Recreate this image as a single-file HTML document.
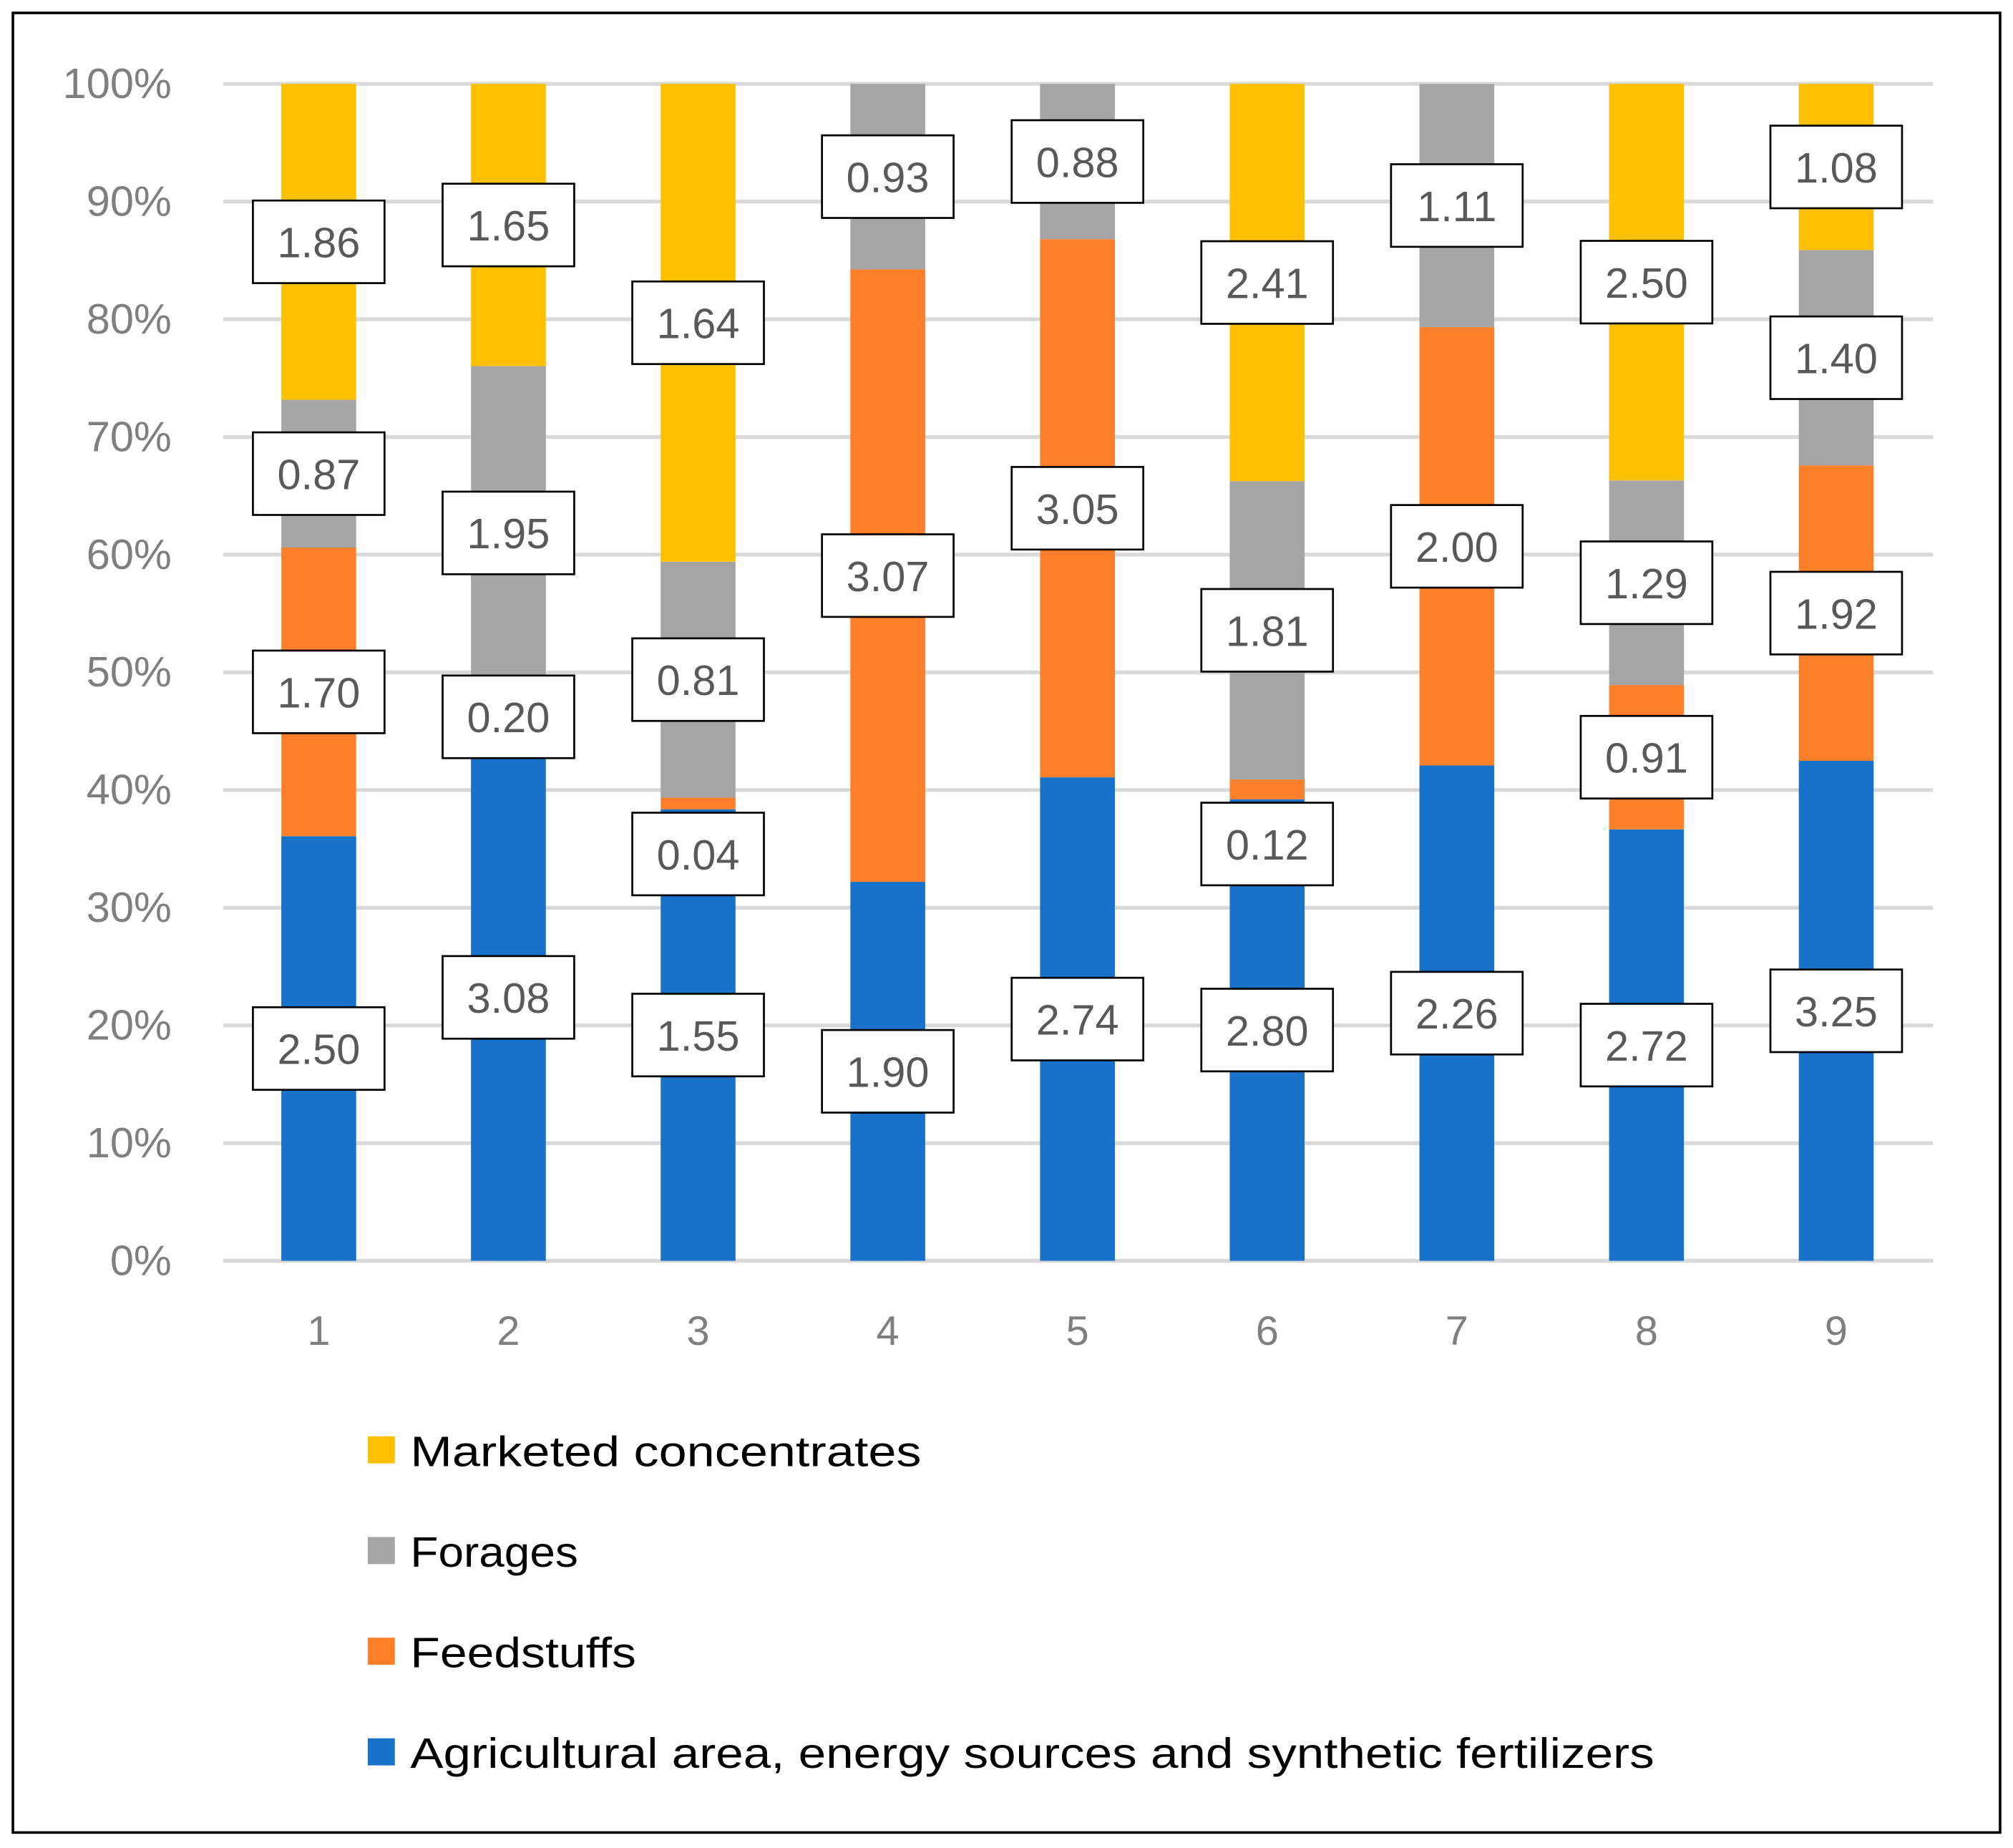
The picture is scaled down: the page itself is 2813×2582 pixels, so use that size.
<!DOCTYPE html>
<html><head><meta charset="utf-8"><style>html,body{margin:0;padding:0;background:#fff}svg{display:block}text{font-family:"Liberation Sans",sans-serif}</style></head>
<body>
<svg id="chart" width="2813" height="2582" viewBox="0 0 1560 1432" preserveAspectRatio="none" xmlns="http://www.w3.org/2000/svg">
<rect x="10" y="10" width="1540" height="1410" fill="#fff" stroke="#000" stroke-width="2"/>
<g id="grid"></g><g id="bars"></g><g id="labels"></g><g id="legend"></g>
</svg>
<script>
const categories = ["1","2","3","4","5","6","7","8","9"];
const agricultural = [2.50,3.08,1.55,1.90,2.74,2.80,2.26,2.72,3.25];
const feedstuffs = [1.70,0.20,0.04,3.07,3.05,0.12,2.00,0.91,1.92];
const forages = [0.87,1.95,0.81,0.93,0.88,1.81,1.11,1.29,1.40];
const concentrates = [1.86,1.65,1.64,0,0,2.41,0,2.50,1.08];
const yTicks = [0,10,20,30,40,50,60,70,80,90,100];
const seriesNames = ["Agricultural area, energy sources and synthetic fertilizers","Feedstuffs","Forages","Marketed concentrates"];
const legendWidths = [964,175,130,396];
const colors = ["#1872C9","#FD7F2A","#A5A5A5","#FFC000"];
const series = [agricultural, feedstuffs, forages, concentrates];
const NS="http://www.w3.org/2000/svg";
const y0=977, y1=65, xL=173, xR=1498;
const yS = p => y0 - (y0-y1)*p/100;
const xS = i => 247 + i*147;
function mk(tag, attrs, parent){const e=document.createElementNS(NS,tag);for(const k in attrs)e.setAttribute(k,attrs[k]);parent.appendChild(e);return e;}
const grid=document.getElementById('grid'), bars=document.getElementById('bars'), labels=document.getElementById('labels'), legend=document.getElementById('legend');
yTicks.forEach(t=>{
  const l=mk('line',{x1:xL,x2:xR,y1:yS(t),y2:yS(t),stroke:'#d9d9d9','stroke-width':3},grid);
  
  
  const tx=mk('text',{x:133,y:yS(t)+11,'text-anchor':'end','font-size':33,fill:'#7f7f7f'},grid);
  tx.textContent=t+'%';
  
  
});
categories.forEach((c,i)=>{
  const tx=mk('text',{x:xS(i),y:1042,'text-anchor':'middle','font-size':32,fill:'#7f7f7f'},grid);
  tx.textContent=c;
  
  
  const total=series.reduce((a,s)=>a+s[i],0);
  let cum=0;
  series.forEach((s,k)=>{
    const v=s[i]; if(v<=0) return;
    const p0=cum/total*100, p1=(cum+v)/total*100; cum+=v;
    const r=mk('rect',{x:xS(i)-29,y:yS(p1),width:58,height:yS(p0)-yS(p1),fill:colors[k]},bars);
    
    
    const pc = (p1-p0)<2 ? p0-3.8 : (p0+p1)/2;
    const cy=yS(pc);
    const g=mk('g',{},labels);
    
    
    mk('rect',{x:xS(i)-51,y:cy-32,width:102,height:64,fill:'#fff',stroke:'#000','stroke-width':1.5},g);
    const t=mk('text',{x:xS(i),y:cy+12,'text-anchor':'middle','font-size':33,fill:'#595959'},g);
    t.textContent=v.toFixed(2);
  });
});
mk('line',{x1:xL,x2:xR,y1:y0,y2:y0,stroke:'#d9d9d9','stroke-width':3},grid);
[3,2,1,0].forEach((k,j)=>{
  const y=1124+j*78;
  const g=mk('g',{},legend);
  
  
  mk('rect',{x:285,y:y-11,width:21,height:21,fill:colors[k]},g);
  const t=mk('text',{x:318,y:y+12,'font-size':33,fill:'#000',textLength:legendWidths[k],lengthAdjust:'spacingAndGlyphs'},g);
  t.textContent=seriesNames[k];
});
</script>
</body></html>
